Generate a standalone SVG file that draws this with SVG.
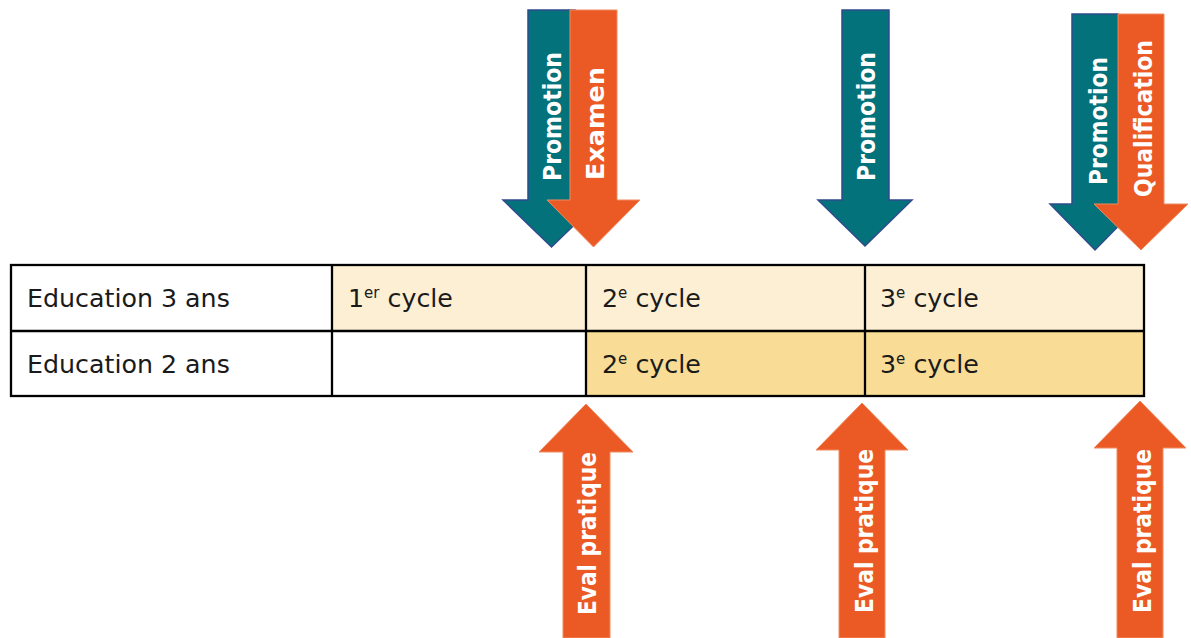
<svg xmlns="http://www.w3.org/2000/svg" width="1191" height="638" viewBox="0 0 1191 638">
<style>
.bg{fill:#ffffff}
.cream{fill:#FCEFD3}
.gold{fill:#F9DC95}
.grid{fill:none;stroke:#000;stroke-width:2.3}
.lbl{font-family:"DejaVu Sans","Liberation Sans",sans-serif;font-size:25.3px;fill:#1a1a1a}
.sup{font-size:15px}
.teal{fill:#03727A;stroke:#2F4B8C;stroke-width:1.5;stroke-linejoin:miter}
.orange{fill:#EB5A24;stroke:#F08A60;stroke-width:1}
.atxt{font-family:"DejaVu Sans","Liberation Sans",sans-serif;font-weight:bold;font-size:24.5px;fill:#ffffff;text-anchor:middle}
</style>
<rect class="bg" x="0" y="0" width="1191" height="638"/>

<g id="table">
  <rect class="cream" x="332" y="265" width="812" height="66"/>
  <rect class="gold" x="586" y="331" width="558" height="65"/>
  <rect class="grid" x="11" y="265" width="1133" height="131"/>
  <line class="grid" x1="11" y1="331" x2="1144" y2="331"/>
  <line class="grid" x1="332" y1="265" x2="332" y2="396"/>
  <line class="grid" x1="586" y1="265" x2="586" y2="396"/>
  <line class="grid" x1="865" y1="265" x2="865" y2="396"/>
</g>

<g id="row-3ans">
  <text class="lbl" x="27" y="307">Education 3 ans</text>
  <text class="lbl" x="348" y="307">1<tspan class="sup" dy="-9">er</tspan><tspan dy="9"> cycle</tspan></text>
  <text class="lbl" x="602" y="307">2<tspan class="sup" dy="-9">e</tspan><tspan dy="9"> cycle</tspan></text>
  <text class="lbl" x="880" y="307">3<tspan class="sup" dy="-9">e</tspan><tspan dy="9"> cycle</tspan></text>
</g>
<g id="row-2ans">
  <text class="lbl" x="27" y="373">Education 2 ans</text>
  <text class="lbl" x="602" y="373">2<tspan class="sup" dy="-9">e</tspan><tspan dy="9"> cycle</tspan></text>
  <text class="lbl" x="880" y="373">3<tspan class="sup" dy="-9">e</tspan><tspan dy="9"> cycle</tspan></text>
</g>

<g id="connectors">
  <g id="arrow-promotion-1">
    <polygon class="teal" points="528,10 575,10 575,200 600,200 551.5,247 503,200 528,200"/>
    <text class="atxt" transform="translate(561,116.5) rotate(-90)" textLength="129" lengthAdjust="spacingAndGlyphs">Promotion</text>
  </g>
  <g id="arrow-examen">
    <polygon class="orange" points="570,10 617,10 617,200 640,200 593.5,247 547,200 570,200"/>
    <text class="atxt" transform="translate(604,123.5) rotate(-90)" textLength="113" lengthAdjust="spacingAndGlyphs">Examen</text>
  </g>
  <g id="arrow-promotion-2">
    <polygon class="teal" points="842,10 889,10 889,200 912,200 865,246 818,200 842,200"/>
    <text class="atxt" transform="translate(875,116.5) rotate(-90)" textLength="129" lengthAdjust="spacingAndGlyphs">Promotion</text>
  </g>
  <g id="arrow-promotion-3">
    <polygon class="teal" points="1072,14 1118,14 1118,204 1140,204 1095,250 1050,204 1072,204"/>
    <text class="atxt" transform="translate(1107,121) rotate(-90)" textLength="128" lengthAdjust="spacingAndGlyphs">Promotion</text>
  </g>
  <g id="arrow-qualification">
    <polygon class="orange" points="1118,14 1164,14 1164,204 1188,204 1141,250 1094,204 1118,204"/>
    <text class="atxt" transform="translate(1152,118.5) rotate(-90)" textLength="157" lengthAdjust="spacingAndGlyphs">Qualification</text>
  </g>
  <g id="arrow-eval-1">
    <polygon class="orange" points="586,404 633,452 610,452 610,638 563,638 563,452 539,452"/>
    <text class="atxt" transform="translate(596,533.5) rotate(-90)" textLength="163" lengthAdjust="spacingAndGlyphs">Eval pratique</text>
  </g>
  <g id="arrow-eval-2">
    <polygon class="orange" points="862,403 908,450 885,450 885,638 839,638 839,450 816,450"/>
    <text class="atxt" transform="translate(873,531) rotate(-90)" textLength="164" lengthAdjust="spacingAndGlyphs">Eval pratique</text>
  </g>
  <g id="arrow-eval-3">
    <polygon class="orange" points="1140,401 1186,448 1163,448 1163,638 1117,638 1117,448 1094,448"/>
    <text class="atxt" transform="translate(1151,531) rotate(-90)" textLength="164" lengthAdjust="spacingAndGlyphs">Eval pratique</text>
  </g>
</g>
</svg>
